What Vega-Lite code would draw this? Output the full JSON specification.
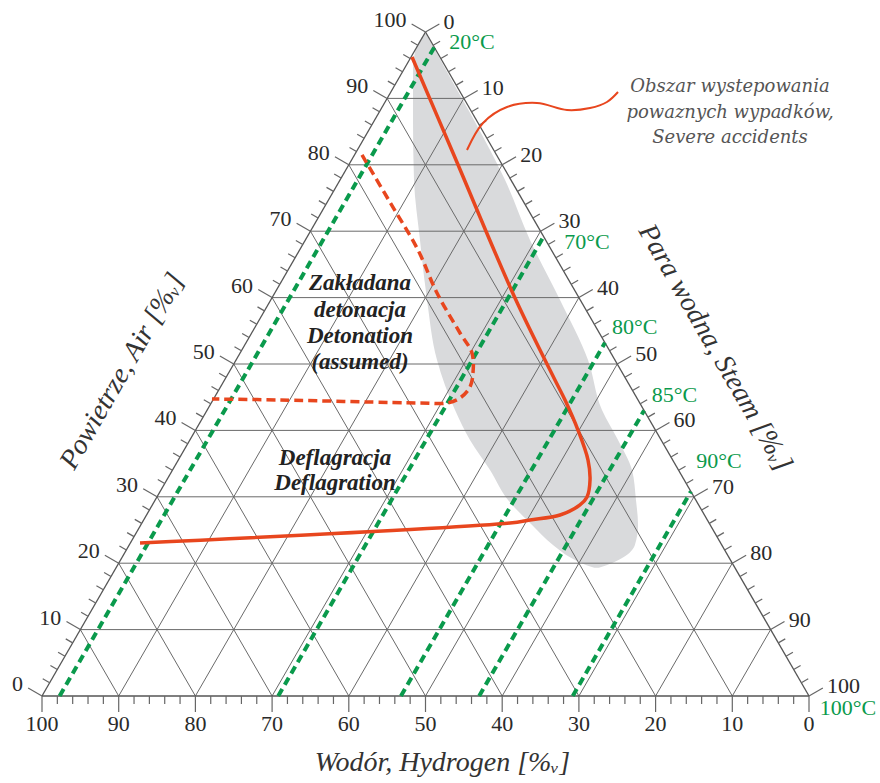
{
  "$schema": "https://vega.github.io/schema/vega-lite/v6.json",
  "autosize": {"type": "none"},
  "width": 767,
  "height": 664,
  "padding": {"left": 42, "top": 32, "right": 71, "bottom": 87},
  "background": "white",
  "config": {"view": {"stroke": null}},
  "datasets": {
    "blob": [
      {"y": 99.7, "xl": 49.8, "xr": 50.07}, {"y": 97.59, "xl": 48.76, "xr": 51.11},
      {"y": 94.28, "xl": 48.37, "xr": 52.67}, {"y": 86.75, "xl": 48.37, "xr": 56.32},
      {"y": 77.71, "xl": 48.5, "xr": 60.37}, {"y": 68.67, "xl": 49.28, "xr": 63.62},
      {"y": 59.64, "xl": 50.2, "xr": 67.54}, {"y": 50.6, "xl": 51.5, "xr": 71.19},
      {"y": 43.07, "xl": 53.85, "xr": 73.01}, {"y": 38.55, "xl": 55.8, "xr": 75.1},
      {"y": 34.04, "xl": 58.41, "xr": 76.92}, {"y": 29.52, "xl": 60.76, "xr": 77.44},
      {"y": 25.75, "xl": 63.89, "xr": 77.71}, {"y": 22.74, "xl": 66.62, "xr": 77.3},
      {"y": 20.9, "xl": 68.84, "xr": 75.8}, {"y": 19.7, "xl": 71.0, "xr": 73.6},
      {"y": 19.3, "xl": 72.0, "xr": 72.6}
    ],
    "grid": [
      {"x": 5, "y": 10, "x2": 95, "y2": 10}, {"x": 10, "y": 20, "x2": 90, "y2": 20},
      {"x": 15, "y": 30, "x2": 85, "y2": 30}, {"x": 20, "y": 40, "x2": 80, "y2": 40},
      {"x": 25, "y": 50, "x2": 75, "y2": 50}, {"x": 30, "y": 60, "x2": 70, "y2": 60},
      {"x": 35, "y": 70, "x2": 65, "y2": 70}, {"x": 40, "y": 80, "x2": 60, "y2": 80},
      {"x": 45, "y": 90, "x2": 55, "y2": 90},
      {"x": 10, "y": 0, "x2": 55, "y2": 90}, {"x": 20, "y": 0, "x2": 60, "y2": 80},
      {"x": 30, "y": 0, "x2": 65, "y2": 70}, {"x": 40, "y": 0, "x2": 70, "y2": 60},
      {"x": 50, "y": 0, "x2": 75, "y2": 50}, {"x": 60, "y": 0, "x2": 80, "y2": 40},
      {"x": 70, "y": 0, "x2": 85, "y2": 30}, {"x": 80, "y": 0, "x2": 90, "y2": 20},
      {"x": 90, "y": 0, "x2": 95, "y2": 10},
      {"x": 90, "y": 0, "x2": 45, "y2": 90}, {"x": 80, "y": 0, "x2": 40, "y2": 80},
      {"x": 70, "y": 0, "x2": 35, "y2": 70}, {"x": 60, "y": 0, "x2": 30, "y2": 60},
      {"x": 50, "y": 0, "x2": 25, "y2": 50}, {"x": 40, "y": 0, "x2": 20, "y2": 40},
      {"x": 30, "y": 0, "x2": 15, "y2": 30}, {"x": 20, "y": 0, "x2": 10, "y2": 20},
      {"x": 10, "y": 0, "x2": 5, "y2": 10}
    ],
    "outline": [
      {"x": 0, "y": 0, "x2": 100, "y2": 0}, {"x": 0, "y": 0, "x2": 50, "y2": 100},
      {"x": 100, "y": 0, "x2": 50, "y2": 100}
    ],
    "bmaj": [
      {"x": 0, "y": 0, "t": "100"}, {"x": 10, "y": 0, "t": "90"}, {"x": 20, "y": 0, "t": "80"},
      {"x": 30, "y": 0, "t": "70"}, {"x": 40, "y": 0, "t": "60"}, {"x": 50, "y": 0, "t": "50"},
      {"x": 60, "y": 0, "t": "40"}, {"x": 70, "y": 0, "t": "30"}, {"x": 80, "y": 0, "t": "20"},
      {"x": 90, "y": 0, "t": "10"}, {"x": 100, "y": 0, "t": "0"}
    ],
    "bmin": [
      {"x": 2, "y": 0}, {"x": 4, "y": 0}, {"x": 6, "y": 0}, {"x": 8, "y": 0},
      {"x": 12, "y": 0}, {"x": 14, "y": 0}, {"x": 16, "y": 0}, {"x": 18, "y": 0},
      {"x": 22, "y": 0}, {"x": 24, "y": 0}, {"x": 26, "y": 0}, {"x": 28, "y": 0},
      {"x": 32, "y": 0}, {"x": 34, "y": 0}, {"x": 36, "y": 0}, {"x": 38, "y": 0},
      {"x": 42, "y": 0}, {"x": 44, "y": 0}, {"x": 46, "y": 0}, {"x": 48, "y": 0},
      {"x": 52, "y": 0}, {"x": 54, "y": 0}, {"x": 56, "y": 0}, {"x": 58, "y": 0},
      {"x": 62, "y": 0}, {"x": 64, "y": 0}, {"x": 66, "y": 0}, {"x": 68, "y": 0},
      {"x": 72, "y": 0}, {"x": 74, "y": 0}, {"x": 76, "y": 0}, {"x": 78, "y": 0},
      {"x": 82, "y": 0}, {"x": 84, "y": 0}, {"x": 86, "y": 0}, {"x": 88, "y": 0},
      {"x": 92, "y": 0}, {"x": 94, "y": 0}, {"x": 96, "y": 0}, {"x": 98, "y": 0}
    ],
    "lmaj": [
      {"x": 0, "y": 0, "t": "0"}, {"x": 5, "y": 10, "t": "10"}, {"x": 10, "y": 20, "t": "20"},
      {"x": 15, "y": 30, "t": "30"}, {"x": 20, "y": 40, "t": "40"}, {"x": 25, "y": 50, "t": "50"},
      {"x": 30, "y": 60, "t": "60"}, {"x": 35, "y": 70, "t": "70"}, {"x": 40, "y": 80, "t": "80"},
      {"x": 45, "y": 90, "t": "90"}, {"x": 50, "y": 100, "t": "100"}
    ],
    "lmin": [
      {"x": 1, "y": 2}, {"x": 2, "y": 4}, {"x": 3, "y": 6}, {"x": 4, "y": 8},
      {"x": 6, "y": 12}, {"x": 7, "y": 14}, {"x": 8, "y": 16}, {"x": 9, "y": 18},
      {"x": 11, "y": 22}, {"x": 12, "y": 24}, {"x": 13, "y": 26}, {"x": 14, "y": 28},
      {"x": 16, "y": 32}, {"x": 17, "y": 34}, {"x": 18, "y": 36}, {"x": 19, "y": 38},
      {"x": 21, "y": 42}, {"x": 22, "y": 44}, {"x": 23, "y": 46}, {"x": 24, "y": 48},
      {"x": 26, "y": 52}, {"x": 27, "y": 54}, {"x": 28, "y": 56}, {"x": 29, "y": 58},
      {"x": 31, "y": 62}, {"x": 32, "y": 64}, {"x": 33, "y": 66}, {"x": 34, "y": 68},
      {"x": 36, "y": 72}, {"x": 37, "y": 74}, {"x": 38, "y": 76}, {"x": 39, "y": 78},
      {"x": 41, "y": 82}, {"x": 42, "y": 84}, {"x": 43, "y": 86}, {"x": 44, "y": 88},
      {"x": 46, "y": 92}, {"x": 47, "y": 94}, {"x": 48, "y": 96}, {"x": 49, "y": 98}
    ],
    "rmaj": [
      {"x": 50, "y": 100, "t": "0"}, {"x": 55, "y": 90, "t": "10"}, {"x": 60, "y": 80, "t": "20"},
      {"x": 65, "y": 70, "t": "30"}, {"x": 70, "y": 60, "t": "40"}, {"x": 75, "y": 50, "t": "50"},
      {"x": 80, "y": 40, "t": "60"}, {"x": 85, "y": 30, "t": "70"}, {"x": 90, "y": 20, "t": "80"},
      {"x": 95, "y": 10, "t": "90"}, {"x": 100, "y": 0, "t": "100"}
    ],
    "rmin": [
      {"x": 51, "y": 98}, {"x": 52, "y": 96}, {"x": 53, "y": 94}, {"x": 54, "y": 92},
      {"x": 56, "y": 88}, {"x": 57, "y": 86}, {"x": 58, "y": 84}, {"x": 59, "y": 82},
      {"x": 61, "y": 78}, {"x": 62, "y": 76}, {"x": 63, "y": 74}, {"x": 64, "y": 72},
      {"x": 66, "y": 68}, {"x": 67, "y": 66}, {"x": 68, "y": 64}, {"x": 69, "y": 62},
      {"x": 71, "y": 58}, {"x": 72, "y": 56}, {"x": 73, "y": 54}, {"x": 74, "y": 52},
      {"x": 76, "y": 48}, {"x": 77, "y": 46}, {"x": 78, "y": 44}, {"x": 79, "y": 42},
      {"x": 81, "y": 38}, {"x": 82, "y": 36}, {"x": 83, "y": 34}, {"x": 84, "y": 32},
      {"x": 86, "y": 28}, {"x": 87, "y": 26}, {"x": 88, "y": 24}, {"x": 89, "y": 22},
      {"x": 91, "y": 18}, {"x": 92, "y": 16}, {"x": 93, "y": 14}, {"x": 94, "y": 12},
      {"x": 96, "y": 8}, {"x": 97, "y": 6}, {"x": 98, "y": 4}, {"x": 99, "y": 2}
    ],
    "iso": [
      {"t": "20°C", "x": 2.3, "y": 0, "x2": 51.15, "y2": 97.7},
      {"t": "70°C", "x": 30.8, "y": 0, "x2": 65.4, "y2": 69.2},
      {"t": "80°C", "x": 46.8, "y": 0, "x2": 73.4, "y2": 53.2},
      {"t": "85°C", "x": 57.0, "y": 0, "x2": 78.5, "y2": 43.0},
      {"t": "90°C", "x": 69.2, "y": 0, "x2": 84.6, "y2": 30.8}
    ],
    "isolab": [
      {"t": "20°C", "x": 53.1, "y": 98.5},
      {"t": "70°C", "x": 68.1, "y": 68.4},
      {"t": "80°C", "x": 74.3, "y": 55.5},
      {"t": "85°C", "x": 79.5, "y": 45.4},
      {"t": "90°C", "x": 85.3, "y": 35.4},
      {"t": "100°C", "x": 101.4, "y": -1.8}
    ],
    "severe": [
      {"i": 0, "x": 48.24, "y": 96.23}, {"i": 1, "x": 53.59, "y": 81.78},
      {"i": 2, "x": 61.67, "y": 59.94}, {"i": 3, "x": 66.88, "y": 47.59},
      {"i": 4, "x": 68.19, "y": 44.58}, {"i": 5, "x": 69.88, "y": 40.06},
      {"i": 6, "x": 71.19, "y": 35.54}, {"i": 7, "x": 71.45, "y": 32.53},
      {"i": 8, "x": 71.06, "y": 29.97}, {"i": 9, "x": 70.14, "y": 28.77},
      {"i": 10, "x": 67.54, "y": 27.26}, {"i": 11, "x": 63.62, "y": 26.51},
      {"i": 12, "x": 61.02, "y": 26.05}, {"i": 13, "x": 12.78, "y": 23.04}
    ],
    "deton": [
      {"i": 0, "x": 41.72, "y": 81.48}, {"i": 1, "x": 45.3, "y": 74.5},
      {"i": 2, "x": 49.02, "y": 67.17},
      {"i": 3, "x": 51.5, "y": 60.69}, {"i": 4, "x": 54.5, "y": 54.67},
      {"i": 5, "x": 56.06, "y": 51.66}, {"i": 6, "x": 56.19, "y": 48.64},
      {"i": 7, "x": 55.8, "y": 46.54}, {"i": 8, "x": 54.5, "y": 44.88},
      {"i": 9, "x": 52.8, "y": 44.13}, {"i": 10, "x": 49.28, "y": 44.13},
      {"i": 11, "x": 31.03, "y": 44.58}, {"i": 12, "x": 22.16, "y": 44.73}
    ],
    "pointer": [
      {"i": 0, "x": 55.41, "y": 82.23}, {"i": 1, "x": 57.5, "y": 86.3},
      {"i": 2, "x": 60.63, "y": 88.7}, {"i": 3, "x": 64.54, "y": 89.31},
      {"i": 4, "x": 68.45, "y": 88.25}, {"i": 5, "x": 71.45, "y": 88.55},
      {"i": 6, "x": 73.66, "y": 89.46}, {"i": 7, "x": 75.1, "y": 90.96}
    ],
    "note": [
      {"x": 89.7, "y": 91.72, "t": "Obszar wystepowania"},
      {"x": 89.7, "y": 87.8, "t": "powaznych wypadków,"},
      {"x": 89.7, "y": 84.04, "t": "Severe accidents"}
    ],
    "regions": [
      {"x": 41.46, "y": 62.2, "t": "Zakładana"},
      {"x": 41.46, "y": 58.13, "t": "detonacja"},
      {"x": 41.46, "y": 54.22, "t": "Detonation"},
      {"x": 41.46, "y": 50.3, "t": "(assumed)"},
      {"x": 38.2, "y": 35.84, "t": "Deflagracja"},
      {"x": 38.2, "y": 32.08, "t": "Deflagration"}
    ],
    "titles": [
      {"x": 52.2, "y": -10.1, "a": 0, "t": "Wodór, Hydrogen  [%ᵥ]"},
      {"x": 10.5, "y": 48.9, "a": -60, "t": "Powietrze, Air [%ᵥ]"},
      {"x": 87.74, "y": 52.41, "a": 60, "t": "Para wodna, Steam [%ᵥ]"}
    ]
  },
  "encoding": {
    "x": {"field": "x", "type": "quantitative", "scale": {"domain": [0, 100], "nice": false, "zero": false}, "axis": null},
    "y": {"field": "y", "type": "quantitative", "scale": {"domain": [0, 100], "nice": false, "zero": false}, "axis": null}
  },
  "layer": [
    {
      "data": {"name": "blob"},
      "mark": {"type": "area", "orient": "horizontal", "interpolate": "monotone", "color": "#d9dadc"},
      "encoding": {
        "x": {"field": "xl", "type": "quantitative"},
        "x2": {"field": "xr"},
        "y": {"field": "y", "type": "quantitative"}
      }
    },
    {
      "data": {"name": "grid"},
      "mark": {"type": "rule", "color": "#6a6a6a", "strokeWidth": 1},
      "encoding": {"x2": {"field": "x2"}, "y2": {"field": "y2"}}
    },
    {
      "data": {"name": "outline"},
      "mark": {"type": "rule", "color": "#555555", "strokeWidth": 1.3},
      "encoding": {"x2": {"field": "x2"}, "y2": {"field": "y2"}}
    },
    {
      "data": {"name": "bmaj"},
      "mark": {"type": "point", "shape": "M0,0L0,2", "size": 256, "filled": false, "stroke": "#666666", "strokeWidth": 1.2, "opacity": 1}
    },
    {
      "data": {"name": "bmin"},
      "mark": {"type": "point", "shape": "M0,0L0,2", "size": 64, "filled": false, "stroke": "#666666", "strokeWidth": 1.2, "opacity": 1}
    },
    {
      "data": {"name": "lmaj"},
      "mark": {"type": "point", "shape": "M0,0L-1.732,-1", "size": 256, "filled": false, "stroke": "#666666", "strokeWidth": 1.2, "opacity": 1}
    },
    {
      "data": {"name": "lmin"},
      "mark": {"type": "point", "shape": "M0,0L-1.732,-1", "size": 64, "filled": false, "stroke": "#666666", "strokeWidth": 1.2, "opacity": 1}
    },
    {
      "data": {"name": "rmaj"},
      "mark": {"type": "point", "shape": "M0,0L1.732,-1", "size": 256, "filled": false, "stroke": "#666666", "strokeWidth": 1.2, "opacity": 1}
    },
    {
      "data": {"name": "rmin"},
      "mark": {"type": "point", "shape": "M0,0L1.732,-1", "size": 64, "filled": false, "stroke": "#666666", "strokeWidth": 1.2, "opacity": 1}
    },
    {
      "data": {"name": "bmaj"},
      "mark": {"type": "text", "font": "Liberation Serif", "fontSize": 22, "color": "#2a2a2a", "align": "center", "baseline": "middle", "dy": 28},
      "encoding": {"text": {"field": "t"}}
    },
    {
      "data": {"name": "lmaj"},
      "mark": {"type": "text", "font": "Liberation Serif", "fontSize": 22, "color": "#2a2a2a", "align": "right", "baseline": "middle", "dx": -19, "dy": -12},
      "encoding": {"text": {"field": "t"}}
    },
    {
      "data": {"name": "rmaj"},
      "mark": {"type": "text", "font": "Liberation Serif", "fontSize": 22, "color": "#2a2a2a", "align": "left", "baseline": "middle", "dx": 18, "dy": -10},
      "encoding": {"text": {"field": "t"}}
    },
    {
      "data": {"name": "iso"},
      "mark": {"type": "rule", "color": "#0a9a4c", "strokeWidth": 4, "strokeDash": [8, 5]},
      "encoding": {"x2": {"field": "x2"}, "y2": {"field": "y2"}}
    },
    {
      "data": {"name": "isolab"},
      "mark": {"type": "text", "font": "Liberation Serif", "fontSize": 22, "color": "#0a9a4c", "align": "left", "baseline": "middle"},
      "encoding": {"text": {"field": "t"}}
    },
    {
      "data": {"name": "severe"},
      "mark": {"type": "line", "interpolate": "catmull-rom", "color": "#e8461e", "strokeWidth": 3.5},
      "encoding": {"order": {"field": "i", "type": "quantitative"}}
    },
    {
      "data": {"name": "deton"},
      "mark": {"type": "line", "interpolate": "catmull-rom", "color": "#e8461e", "strokeWidth": 3.5, "strokeDash": [9, 5]},
      "encoding": {"order": {"field": "i", "type": "quantitative"}}
    },
    {
      "data": {"name": "pointer"},
      "mark": {"type": "line", "interpolate": "catmull-rom", "color": "#e8461e", "strokeWidth": 2},
      "encoding": {"order": {"field": "i", "type": "quantitative"}}
    },
    {
      "data": {"name": "note"},
      "mark": {"type": "text", "font": "DejaVu Serif", "fontStyle": "italic", "fontSize": 18, "color": "#555555", "align": "center", "baseline": "middle"},
      "encoding": {"text": {"field": "t"}}
    },
    {
      "data": {"name": "regions"},
      "mark": {"type": "text", "font": "Liberation Serif", "fontStyle": "italic", "fontWeight": "bold", "fontSize": 23, "color": "#222222", "align": "center", "baseline": "middle"},
      "encoding": {"text": {"field": "t"}}
    },
    {
      "data": {"name": "titles"},
      "mark": {"type": "text", "font": "Liberation Serif", "fontStyle": "italic", "fontSize": 28, "color": "#333333", "align": "center", "baseline": "middle"},
      "encoding": {"text": {"field": "t"}, "angle": {"field": "a", "type": "quantitative", "scale": null}}
    }
  ]
}
